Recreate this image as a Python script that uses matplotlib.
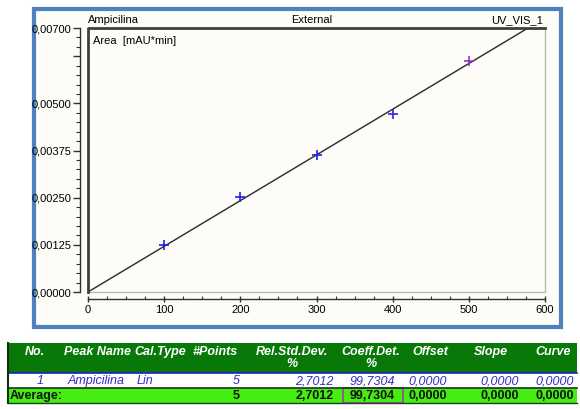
import numpy as np
import matplotlib.pyplot as plt
from matplotlib.patches import Rectangle
from matplotlib.ticker import MultipleLocator, FuncFormatter

plt.rcParams['font.family'] = ['Liberation Sans', 'DejaVu Sans']

# calibration points (amount vs area)
amount = [100, 200, 300, 400, 500]
area = [0.00124, 0.00252, 0.00364, 0.00471, 0.00612]
point_colors = ['#2020e0', '#2020e0', '#2020e0', '#3a20d8', '#9a30c8']

y_major = [0.0, 0.00125, 0.0025, 0.00375, 0.005, 0.00625, 0.007]
y_labels = ['0,00000', '0,00125', '0,00250', '0,00375', '0,00500', '', '0,00700']
x_ticks = [0, 100, 200, 300, 400, 500, 600]

# table contents
headers = ['No.', 'Peak Name', 'Cal.Type', '#Points', 'Rel.Std.Dev.\n%',
           'Coeff.Det.\n%', 'Offset', 'Slope', 'Curve']
row1 = ['1', 'Ampicilina', 'Lin', '5', '2,7012', '99,7304', '0,0000', '0,0000', '0,0000']
avg_row = ['Average:', '', '', '5', '2,7012', '99,7304', '0,0000', '0,0000', '0,0000']

W, H = 580, 409
fig = plt.figure(figsize=(W / 100, H / 100), dpi=100)
fig.patch.set_facecolor('white')

# overlay axes in pixel coordinates for frame and table
bg = fig.add_axes([0, 0, 1, 1])
bg.set_xlim(0, W)
bg.set_ylim(H, 0)
bg.axis('off')
bg.add_patch(Rectangle((34, 9), 527, 318, facecolor='#fdfcf8', edgecolor='#4f81bd', lw=3))

# main plot
def px(x0, y0, x1, y1):
    return [x0 / W, 1 - y1 / H, (x1 - x0) / W, (y1 - y0) / H]

ax = fig.add_axes(px(88, 28, 545, 292))
ax.set_facecolor('#fdfcf8')
ax.set_xlim(0, 600)
ax.set_ylim(0, 0.007)

# fitted line through origin
slope = np.dot(amount, area) / np.dot(amount, amount)
xs = np.array([0, 600])
ax.plot(xs, slope * xs, color='#282828', lw=1.0, zorder=2)
for xv, yv, c in zip(amount, area, point_colors):
    ax.plot(xv, yv, marker='+', ms=7, mew=1.2, color=c, linestyle='none', zorder=3)

for s in ['top', 'right']:
    ax.spines[s].set_visible(False)
ax.spines['left'].set_position(('outward', 6))
ax.spines['bottom'].set_position(('outward', 5))
ax.spines['left'].set_color('#303030')
ax.spines['bottom'].set_color('#303030')
ax.spines['left'].set_linewidth(1)
ax.spines['bottom'].set_linewidth(1)

# plot box lines
ax.plot([0, 1, 1, 0], [1, 1, 0, 0], transform=ax.transAxes, color='#b8b8b8', lw=1, clip_on=False)
ax.plot([0, 0, 1], [0, 1, 1], transform=ax.transAxes, color='#404040', lw=2, clip_on=False)

ax.set_yticks(y_major)
ax.set_yticklabels(y_labels)
ax.yaxis.set_minor_locator(MultipleLocator(0.00025))
ax.set_xticks(x_ticks)
ax.xaxis.set_major_formatter(FuncFormatter(lambda v, p: '%d' % v))
ax.xaxis.set_minor_locator(MultipleLocator(25))
ax.tick_params(axis='y', which='major', length=5, width=1, labelsize=8, pad=1, color='#303030')
ax.tick_params(axis='y', which='minor', length=3, width=0.8, color='#303030')
ax.tick_params(axis='x', which='major', length=5, width=1, labelsize=8, pad=2,
               direction='inout', color='#303030')
ax.tick_params(axis='x', which='minor', length=2, width=0.8, direction='in', color='#303030')

ax.text(0.0, 1.012, 'Ampicilina', transform=ax.transAxes, fontsize=8, ha='left', va='bottom')
ax.text(0.49, 1.012, 'External', transform=ax.transAxes, fontsize=8, ha='center', va='bottom')
ax.text(0.995, 1.012, 'UV_VIS_1', transform=ax.transAxes, fontsize=8, ha='right', va='bottom')
ax.text(0.01, 0.97, 'Area  [mAU*min]', transform=ax.transAxes, fontsize=8, ha='left', va='top')

# table
tx0, tx1 = 8, 577
bg.add_patch(Rectangle((tx0, 343), tx1 - tx0, 30, facecolor='#087808', edgecolor='none'))
bg.add_patch(Rectangle((tx0, 373), tx1 - tx0, 15, facecolor='white', edgecolor='none'))
bg.add_patch(Rectangle((tx0, 388), tx1 - tx0, 15, facecolor='#44ee10', edgecolor='none'))
bg.plot([tx0, tx1], [373, 373], color='#2020c0', lw=1.2)
bg.plot([tx0, tx1], [388, 388], color='#203020', lw=1.2)
bg.plot([tx0, tx1], [403, 403], color='#204020', lw=1)
bg.plot([tx0, tx0], [343, 403], color='#103010', lw=1.5)
bg.add_patch(Rectangle((343, 388), 60, 15, facecolor='none', edgecolor='#a040a0', lw=1.2))

# column layout: (header center, value anchor x, value align)
head_x = [35, 98, 160, 215, 292, 371, 430, 491, 553]
val_x = [40, 68, 137, 240, 334, 395, 447, 519, 574]
val_ha = ['center', 'left', 'left', 'right', 'right', 'right', 'right', 'right', 'right']

for h, x in zip(headers, head_x):
    bg.text(x, 346, h, color='white', fontsize=9, fontweight='bold', style='italic',
            ha='center', va='top', linespacing=1.0)
for v, x, ha in zip(row1, val_x, val_ha):
    bg.text(x, 381, v, color='#3030c0', fontsize=9, style='italic', ha=ha, va='center')
for i, (v, x, ha) in enumerate(zip(avg_row, val_x, val_ha)):
    if i == 0:
        x, ha = 10, 'left'
    bg.text(x, 396, v, color='#101010', fontsize=9, fontweight='bold', ha=ha, va='center')

fig.savefig('out.png', dpi=100)
